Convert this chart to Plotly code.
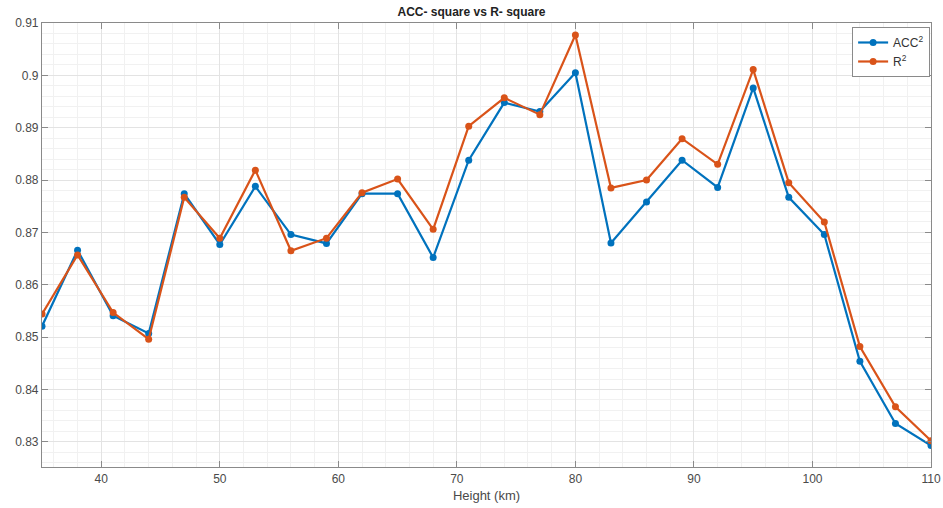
import plotly.graph_objects as go

# Height levels (km)
height = [35, 38, 41, 44, 47, 50, 53, 56, 59, 62, 65, 68, 71, 74, 77, 80, 83, 86, 89,
          92, 95, 98, 101, 104, 107, 110]

# Squared correlation (ACC^2) per height
acc_sq = [0.8521, 0.8666, 0.8541, 0.8507, 0.8774, 0.8677, 0.8788, 0.8696, 0.8679,
          0.8774, 0.8774, 0.8652, 0.8838, 0.8948, 0.8931, 0.9005, 0.8680, 0.8758,
          0.8838, 0.8786, 0.8976, 0.8767, 0.8696, 0.8454, 0.8335, 0.8293]

# Coefficient of determination (R^2) per height
r_sq = [0.8544, 0.8657, 0.8547, 0.8496, 0.8767, 0.8689, 0.8819, 0.8665, 0.8689,
        0.8776, 0.8802, 0.8706, 0.8903, 0.8957, 0.8925, 0.9077, 0.8785, 0.8800,
        0.8879, 0.8830, 0.9011, 0.8795, 0.8720, 0.8482, 0.8367, 0.8302]

x_ticks = [40, 50, 60, 70, 80, 90, 100, 110]
y_ticks = [0.83, 0.84, 0.85, 0.86, 0.87, 0.88, 0.89, 0.90, 0.91]
y_tick_text = ["0.83", "0.84", "0.85", "0.86", "0.87", "0.88", "0.89", "0.9", "0.91"]

BLUE = "#0072BD"
ORANGE = "#D95319"
AXIS = "#8a8a8a"
FONT = "Liberation Sans, Arial, sans-serif"

fig = go.Figure()
fig.add_trace(go.Scatter(
    x=height, y=acc_sq, mode="lines+markers", name="ACC<sup>2</sup>",
    line=dict(color=BLUE, width=2.2), marker=dict(color=BLUE, size=7),
))
fig.add_trace(go.Scatter(
    x=height, y=r_sq, mode="lines+markers", name="R<sup>2</sup>",
    line=dict(color=ORANGE, width=2.2), marker=dict(color=ORANGE, size=7),
))

axis_common = dict(
    showline=True, linecolor=AXIS, linewidth=1.2, mirror="ticks",
    ticks="inside", ticklen=6, tickcolor=AXIS,
    showgrid=True, gridcolor="#e3e3e3", gridwidth=1,
    zeroline=False, automargin=False,
    tickfont=dict(family=FONT, size=12, color="#4a4a4a"),
)

fig.update_xaxes(
    range=[35, 110], tickvals=x_ticks,
    title=dict(text="Height (km)", font=dict(family=FONT, size=13, color="#4a4a4a"),
               standoff=6),
    minor=dict(dtick=2, tick0=0, showgrid=True, gridcolor="#f1f1f1", ticks=""),
    **axis_common,
)
fig.update_yaxes(
    range=[0.8252, 0.91], tickvals=y_ticks, ticktext=y_tick_text,
    minor=dict(dtick=0.002, tick0=0.83, showgrid=True, gridcolor="#f1f1f1", ticks=""),
    **axis_common,
)

fig.update_layout(
    width=943, height=508,
    margin=dict(l=42, r=12, t=23, b=41),
    paper_bgcolor="white", plot_bgcolor="white",
    title=dict(text="<b>ACC- square vs R- square</b>", x=0.5, xanchor="center",
               y=0.976, yanchor="middle",
               font=dict(family=FONT, size=12, color="#222222")),
    legend=dict(
        x=0.999, y=0.991, xanchor="right", yanchor="top",
        bordercolor=AXIS, borderwidth=1, bgcolor="white",
        font=dict(family=FONT, size=12, color="#333333"),
        itemwidth=30, tracegroupgap=0,
    ),
    showlegend=True,
)

fig.write_html("out.html")
